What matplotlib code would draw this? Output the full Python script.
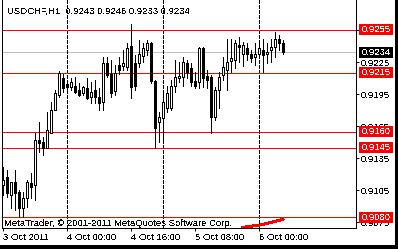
import numpy as np
import pandas as pd
import matplotlib
matplotlib.use('Agg')
import matplotlib.pyplot as plt
from matplotlib.patches import Rectangle

plt.rcParams['font.family'] = ['Liberation Sans', 'DejaVu Sans']
plt.rcParams['font.size'] = 6.8
plt.rcParams['text.antialiased'] = False
plt.rcParams['lines.antialiased'] = False
plt.rcParams['patch.antialiased'] = False

# === USDCHF H1 bars ===
SYMBOL = 'USDCHF,H1'
FIRST_BAR = '2011-10-03 08:00'

opens = [0.9110, 0.9117, 0.9101, 0.9113, 0.9103, 0.9088, 0.9098, 0.9112, 0.9110, 0.9152,
         0.9150, 0.9145, 0.9159, 0.9180, 0.9194, 0.9210, 0.9204, 0.9202, 0.9203, 0.9199,
         0.9196, 0.9201, 0.9192, 0.9199, 0.9192, 0.9188, 0.9224, 0.9214, 0.9198, 0.9222,
         0.9221, 0.9220, 0.9240, 0.9224, 0.9224, 0.9231, 0.9236, 0.9243, 0.9207, 0.9169,
         0.9173, 0.9182, 0.9182, 0.9203, 0.9210, 0.9211, 0.9224, 0.9219, 0.9207, 0.9206,
         0.9238, 0.9212, 0.9211, 0.9174, 0.9199, 0.9213, 0.9218, 0.9226, 0.9227, 0.9241,
         0.9233, 0.9238, 0.9233, 0.9230, 0.9233, 0.9236, 0.9233, 0.9236, 0.9239, 0.9247,
         0.9243]
highs = [0.9127, 0.9124, 0.9113, 0.9124, 0.9105, 0.9103, 0.9115, 0.9121, 0.9159, 0.9169,
         0.9155, 0.9178, 0.9188, 0.9199, 0.9217, 0.9214, 0.9208, 0.9210, 0.9211, 0.9205,
         0.9203, 0.9210, 0.9206, 0.9208, 0.9201, 0.9230, 0.9230, 0.9227, 0.9222, 0.9230,
         0.9236, 0.9243, 0.9261, 0.9232, 0.9246, 0.9243, 0.9246, 0.9244, 0.9208, 0.9178,
         0.9197, 0.9203, 0.9208, 0.9227, 0.9225, 0.9230, 0.9227, 0.9224, 0.9216, 0.9239,
         0.9239, 0.9218, 0.9213, 0.9202, 0.9216, 0.9230, 0.9247, 0.9247, 0.9246, 0.9248,
         0.9244, 0.9243, 0.9236, 0.9243, 0.9246, 0.9247, 0.9243, 0.9247, 0.9253, 0.9250,
         0.9246]
lows = [0.9101, 0.9099, 0.9088, 0.9087, 0.9080, 0.9080, 0.9089, 0.9098, 0.9096, 0.9141,
        0.9138, 0.9145, 0.9159, 0.9180, 0.9192, 0.9197, 0.9197, 0.9199, 0.9196, 0.9193,
        0.9194, 0.9190, 0.9187, 0.9187, 0.9180, 0.9180, 0.9211, 0.9192, 0.9194, 0.9214,
        0.9218, 0.9218, 0.9191, 0.9199, 0.9220, 0.9225, 0.9232, 0.9205, 0.9145, 0.9150,
        0.9152, 0.9178, 0.9180, 0.9197, 0.9206, 0.9203, 0.9210, 0.9203, 0.9201, 0.9201,
        0.9202, 0.9201, 0.9159, 0.9171, 0.9182, 0.9208, 0.9199, 0.9216, 0.9219, 0.9225,
        0.9221, 0.9227, 0.9225, 0.9222, 0.9229, 0.9216, 0.9224, 0.9225, 0.9230, 0.9236,
        0.9233]
closes = [0.9115, 0.9102, 0.9113, 0.9102, 0.9088, 0.9098, 0.9113, 0.9108, 0.9152, 0.9149,
          0.9145, 0.9161, 0.9180, 0.9196, 0.9215, 0.9201, 0.9202, 0.9206, 0.9197, 0.9194,
          0.9202, 0.9191, 0.9197, 0.9192, 0.9187, 0.9224, 0.9213, 0.9196, 0.9215, 0.9218,
          0.9224, 0.9238, 0.9202, 0.9203, 0.9233, 0.9238, 0.9243, 0.9207, 0.9163, 0.9174,
          0.9188, 0.9196, 0.9203, 0.9211, 0.9212, 0.9225, 0.9216, 0.9206, 0.9203, 0.9238,
          0.9210, 0.9208, 0.9174, 0.9199, 0.9211, 0.9220, 0.9225, 0.9229, 0.9243, 0.9239,
          0.9241, 0.9233, 0.9229, 0.9233, 0.9238, 0.9232, 0.9234, 0.9239, 0.9247, 0.9243,
          0.9234]

# horizontal levels drawn on the chart (red), and the bid line (grey)
levels = [0.9255, 0.9215, 0.9160, 0.9145, 0.9080]
bid = 0.9234
price_ticks = [0.9075, 0.9105, 0.9135, 0.9165, 0.9195, 0.9225, 0.9255]

# little red MetaQuotes swoosh under the copyright line (bar index, price)
swoosh_bars = [60, 64.25, 66.75, 70]
swoosh_prices = [0.90704, 0.90725, 0.90747, 0.90779]

Y_LO, Y_HI = 0.906971, 0.928307
BAR_STEP_LABEL = 16

W, H = 398, 249
fig = plt.figure(figsize=(W / 100, H / 100), dpi=100)
ax = fig.add_axes([2 / W, 21 / H, 354 / W, 228 / H])

o = np.array(opens)
hi = np.array(highs)
lo = np.array(lows)
c = np.array(closes)
x = np.arange(len(o))
times = pd.date_range(FIRST_BAR, periods=len(o), freq='h')

# wicks, then bodies on top (white bodies hide the wick)
ax.vlines(x, lo, hi, color='black', linewidth=0.72, zorder=3)
up = c >= o
ax.bar(x[up], c[up] - o[up], bottom=o[up], width=0.5, facecolor='white',
       edgecolor='black', linewidth=0.72, zorder=4)
ax.bar(x[~up], o[~up] - c[~up], bottom=c[~up], width=0.5, facecolor='black',
       edgecolor='black', linewidth=0.72, zorder=4)

# period separators at midnight
for i, t in enumerate(times):
    if t.hour == 0:
        ax.axvline(i, color='black', linewidth=0.72, linestyle=(0, (3, 2)), zorder=2)

for lvl in levels:
    ax.axhline(lvl, color='#ff0000', linewidth=0.72, zorder=2)
ax.axhline(bid, color='#c0c0c0', linewidth=0.72, zorder=1)

ax.plot(swoosh_bars, swoosh_prices, color='#ff0000', linewidth=1.4, zorder=5)

ax.set_xlim(-0.25, 88.25)
ax.set_ylim(Y_LO, Y_HI)

# axes frame
ax.spines['top'].set_visible(False)
for s in ['left', 'bottom', 'right']:
    ax.spines[s].set_linewidth(0.72)
ax.spines['right'].set_linestyle((0, (3, 2)))

ax.yaxis.tick_right()
ax.set_yticks(price_ticks)
ax.set_yticklabels([f'{p:.4f}' for p in price_ticks])
ax.tick_params(axis='y', direction='out', length=2.2, width=0.72, pad=1.2)

tick_idx = list(range(0, len(o), BAR_STEP_LABEL))
tick_lbl = []
for i in tick_idx:
    t = times[i]
    tick_lbl.append(f'{t.day} {t:%b %Y}' if i == 0 else f'{t.day} {t:%b %H:%M}')
ax.set_xticks(tick_idx)
ax.set_xticklabels(tick_lbl, ha='left')
ax.tick_params(axis='x', direction='out', length=2.2, width=0.72, pad=1.2)

# price tags on the right scale
tag_h = 11 * (Y_HI - Y_LO) / 228
ytr = ax.get_yaxis_transform()
for p, col in [(lvl, '#ff0000') for lvl in levels] + [(bid, 'black')]:
    ax.add_patch(Rectangle((1.0085, p - tag_h / 2), 0.096, tag_h, transform=ytr,
                           facecolor=col, edgecolor='none', clip_on=False, zorder=6))
    ax.text(1.017, p, f'{p:.4f}', transform=ytr, color='white', ha='left',
            va='center', clip_on=False, zorder=7)

# header and copyright
fig.text(7 / W, 1 - 11.5 / H,
         f'{SYMBOL}  {o[-1]:.4f} {hi[-1]:.4f} {lo[-1]:.4f} {c[-1]:.4f}', va='center')
fig.text(4 / W, 1 - 223.5 / H, 'MetaTrader, \u00a9 2001-2011 MetaQuotes Software Corp.',
         va='center')

# window border, right and bottom
fig.patches.append(Rectangle((395 / W, 0), 3 / W, 1, transform=fig.transFigure,
                             facecolor='black', edgecolor='none'))
fig.patches.append(Rectangle((0, 0), 1, 4 / H, transform=fig.transFigure,
                             facecolor='black', edgecolor='none'))

fig.savefig('out.png', dpi=100)
